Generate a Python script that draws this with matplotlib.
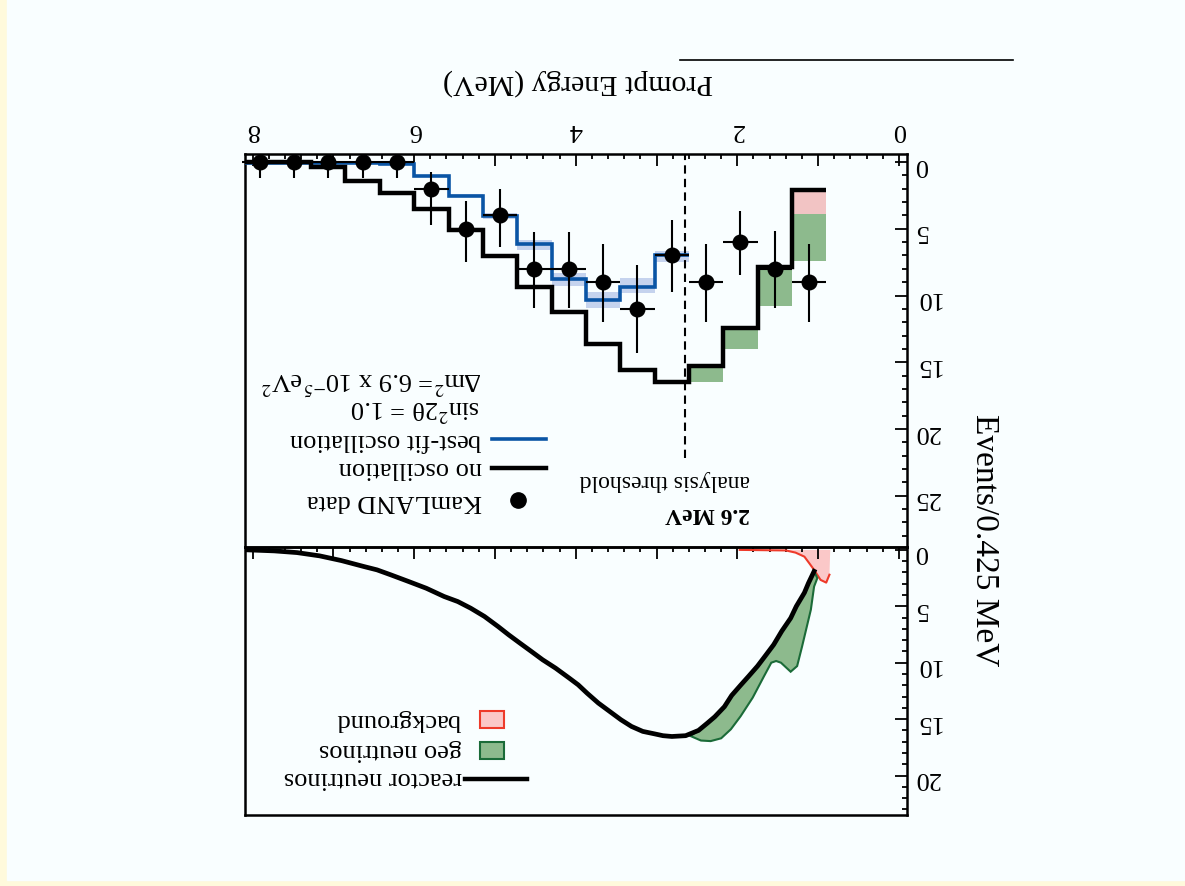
import numpy as np
import matplotlib
matplotlib.use('Agg')
import matplotlib.pyplot as plt
from matplotlib.ticker import MultipleLocator
from matplotlib.patches import Rectangle
from matplotlib.lines import Line2D

plt.rcParams['font.family'] = ['Liberation Serif', 'DejaVu Serif']
plt.rcParams['mathtext.fontset'] = 'stix'

W, H = 1185, 886

# ---- data ----
bin_start = 0.9
bin_width = 0.425
kamland_counts = [9, 8, 6, 9, 7, 11, 9, 8, 8, 4, 5, 2, 0, 0, 0, 0, 0]
err_low = [2.85, 2.8, 2.35, 2.85, 2.65, 3.3, 2.85, 2.75, 2.75, 2.0, 2.1, 1.25, 0, 0, 0, 0, 0]
err_high = [3.0, 2.9, 2.5, 3.0, 2.7, 3.3, 3.0, 2.95, 2.95, 2.4, 2.5, 2.7, 1.2, 1.2, 1.2, 1.2, 1.2]
no_osc = [2.13, 7.85, 12.4, 15.25, 16.45, 15.58, 13.65, 11.25, 9.33, 7.03, 5.13, 3.53,
          2.33, 1.4, 0.38, 0.03, 0.0]
# best fit starts at the 2.6 MeV bin
best_fit = [7.0, 9.33, 10.33, 8.73, 6.13, 4.03, 2.53, 1.03, 0.15, 0.06, 0.05, 0.05, 0.05]
best_lo = [6.7, 8.7, 9.7, 8.3, 5.83, 3.8, 2.4, 0.95, 0.1, 0.02, 0.0, 0.0, 0.0]
best_hi = [7.5, 9.8, 10.95, 9.3, 6.58, 4.3, 2.65, 1.1, 0.2, 0.1, 0.1, 0.1, 0.1]
bkg_bins = [1.8, 0.25, 0.0, 0.0]
geo_bins = [3.45, 2.65, 1.6, 1.25]
threshold = 2.65

reactor_e = [8.06, 7.73, 7.45, 7.17, 6.90, 6.62, 6.46, 6.29, 6.07, 5.85, 5.63, 5.46, 5.30,
             5.13, 4.96, 4.83, 4.69, 4.55, 4.41, 4.25, 4.08, 3.97, 3.86, 3.72, 3.58, 3.44,
             3.31, 3.17, 3.03, 2.92, 2.81, 2.64, 2.48, 2.37, 2.28, 2.16, 2.07, 1.96, 1.86,
             1.75, 1.66, 1.55, 1.45, 1.34, 1.27, 1.17, 1.12, 1.05]
reactor_n = [0.0, 0.09, 0.24, 0.53, 0.95, 1.48, 1.77, 2.21, 2.80, 3.40, 4.13, 4.58, 5.17,
             5.9, 6.8, 7.53, 8.27, 9.0, 9.74, 10.48, 11.37, 11.96, 12.7, 13.58, 14.32, 15.06,
             15.65, 16.09, 16.3, 16.47, 16.54, 16.47, 16.0, 15.35, 14.8, 13.9, 12.9, 12.0, 11.2,
             10.3, 9.45, 8.4, 7.2, 6.05, 5.0, 3.8, 2.95, 1.9]
geo_e = [1.01, 1.05, 1.09, 1.15, 1.20, 1.26, 1.34, 1.46, 1.52, 1.58, 1.67, 1.81, 1.96,
         2.08, 2.20, 2.33, 2.45, 2.58]
geo_n = [2.5, 3.25, 5.3, 7.1, 8.6, 10.3, 10.8, 10.0, 9.85, 10.0, 11.2, 13.1, 14.75,
         15.9, 16.7, 16.95, 16.9, 16.5]
bkg_e = [1.97, 1.40, 1.28, 1.17, 1.11, 1.05, 0.97, 0.90, 0.86, 0.85]
bkg_n = [0.0, 0.05, 0.24, 0.6, 1.18, 1.77, 2.66, 2.9, 2.2, 0.0]

edges = bin_start + bin_width * np.arange(len(kamland_counts) + 1)
centers = edges[:-1] + bin_width / 2

fig = plt.figure(figsize=(W / 100, H / 100), dpi=100)
fig.patch.set_facecolor('#FFFADC')
fig.add_artist(Rectangle((7 / W, 6 / H), 1, 1, transform=fig.transFigure,
                         color='#F9FEFF', zorder=-10))

ax1 = fig.add_axes([244.5 / W, (H - 546.5) / H, 662.5 / W, 392.5 / H])
ax2 = fig.add_axes([244.5 / W, (H - 815) / H, 662.5 / W, 268.5 / H], sharex=ax1)

for ax in (ax1, ax2):
    ax.set_facecolor('none')
    for s in ax.spines.values():
        s.set_linewidth(1.8)
    ax.xaxis.tick_top()
    ax.yaxis.tick_right()
    ax.xaxis.set_major_locator(MultipleLocator(1))
    ax.xaxis.set_minor_locator(MultipleLocator(0.2))
    ax.yaxis.set_major_locator(MultipleLocator(5))
    ax.yaxis.set_minor_locator(MultipleLocator(1))
    ax.tick_params(which='both', direction='in', width=1.3, labelsize=19,
                   labelrotation=180)
    ax.tick_params(which='major', length=8.5)
    ax.tick_params(which='minor', length=3.6)
    ax.tick_params(axis='y', pad=5)

ax1.set_xlim(8.1, -0.1)
ax1.set_ylim(28.8, -0.6)
ax2.set_ylim(23.5, -0.3)
ax1.set_xticks(np.arange(0, 9))
ax1.set_xticklabels([str(v) if v % 2 == 0 else '' for v in range(9)])
ax1.tick_params(axis='x', pad=9)
ax2.tick_params(axis='x', labeltop=False)
ax1.set_yticks(np.arange(0, 30, 5))
ax2.set_yticks(np.arange(0, 25, 5))

# ---- top panel ----
ax1.bar(centers[:4], bkg_bins, width=bin_width, bottom=no_osc[:4], color='#F2C4C4', zorder=1)
ax1.bar(centers[:4], geo_bins, width=bin_width,
        bottom=np.add(no_osc[:4], bkg_bins), color='#8DBA8D', zorder=1)
ax1.stairs(best_hi, edges[4:], baseline=best_lo, fill=True, color='#C5D3EE', zorder=2)
ax1.stairs(best_fit, edges[4:], baseline=None, color='#0A55A5', lw=2.6, zorder=3)
ax1.stairs(no_osc, edges, baseline=None, color='k', lw=3.2, zorder=4)
ax1.errorbar(centers, kamland_counts, yerr=[err_low, err_high], xerr=bin_width / 2,
             fmt='o', color='k', ms=10.5, elinewidth=1.5, capsize=0, zorder=5, clip_on=False)
ax1.axvline(threshold, ymin=0.2245, ymax=1, color='k', lw=1.5, ls=(0, (4, 2.5)))

rot = dict(rotation=180, rotation_mode='anchor', ha='left', va='center')
ax1.text(0.763, 0.085, '2.6 MeV', transform=ax1.transAxes, fontsize=17,
         fontweight='bold', **rot)
ax1.text(0.763, 0.167, 'analysis threshold', transform=ax1.transAxes, fontsize=17, **rot)

ax1.plot([0.4128], [0.1185], 'o', color='k', ms=11, transform=ax1.transAxes)
ax1.plot([0.3736, 0.4551], [0.1992, 0.1992], color='k', lw=3.2, transform=ax1.transAxes)
ax1.plot([0.3736, 0.4551], [0.2731, 0.2731], color='#0A55A5', lw=2.6, transform=ax1.transAxes)
ax1.text(0.3585, 0.116, 'KamLAND data', transform=ax1.transAxes, fontsize=19, **rot)
ax1.text(0.3585, 0.200, 'no oscillation', transform=ax1.transAxes, fontsize=19, **rot)
ax1.text(0.3585, 0.272, 'best-fit oscillation', transform=ax1.transAxes, fontsize=19, **rot)
ax1.text(0.3555, 0.352, 'sin$^2$2θ = 1.0', transform=ax1.transAxes,
         fontsize=19, **rot)
ax1.text(0.3585, 0.424, 'Δm$^2$= 6.9 x 10$^{-5}$eV$^2$', transform=ax1.transAxes,
         fontsize=19, **rot)

# ---- bottom panel ----
ax2.fill(bkg_e, bkg_n, color='#FBC8C8', lw=0, zorder=1)
ax2.plot(bkg_e[:-1], bkg_n[:-1], color='#EE3A2A', lw=1.5, zorder=2)
re = np.array(reactor_e)
rn = np.array(reactor_n)
sel = re <= geo_e[-1]
ax2.fill(np.concatenate([re[sel], geo_e]), np.concatenate([rn[sel], geo_n]),
         facecolor='#8DBA8D', edgecolor='#1B6B38', lw=1.5, zorder=2)
ax2.plot(reactor_e, reactor_n, color='k', lw=3.4, zorder=3, solid_joinstyle='round')

ax2.plot([0.3328, 0.4264], [0.134, 0.134], color='k', lw=3.2, transform=ax2.transAxes)
ax2.add_patch(Rectangle((0.3555, 0.2086), 0.0362, 0.0633, transform=ax2.transAxes,
                        facecolor='#8DBA8D', edgecolor='#1B6B38', lw=1.5))
ax2.add_patch(Rectangle((0.3555, 0.324), 0.0362, 0.063, transform=ax2.transAxes,
                        facecolor='#FBC8C8', edgecolor='#EE3A2A', lw=1.5))
ax2.text(0.3283, 0.138, 'reactor neutrinos', transform=ax2.transAxes, fontsize=19, **rot)
ax2.text(0.3283, 0.242, 'geo neutrinos', transform=ax2.transAxes, fontsize=19, **rot)
ax2.text(0.3283, 0.354, 'background', transform=ax2.transAxes, fontsize=19, **rot)

# ---- axis titles ----
fig.text(578 / W, 1 - 82 / H, 'Prompt Energy (MeV)', rotation=180, fontsize=21.5,
         ha='center', va='center')
fig.text(985 / W, 1 - 540 / H, 'Events/0.425 MeV', rotation=270, fontsize=24,
         ha='center', va='center')
fig.add_artist(Line2D([680 / W, 1013 / W], [1 - 60 / H, 1 - 60 / H], color='k', lw=1.2))

fig.savefig('out.png', dpi=100, facecolor=fig.get_facecolor())
